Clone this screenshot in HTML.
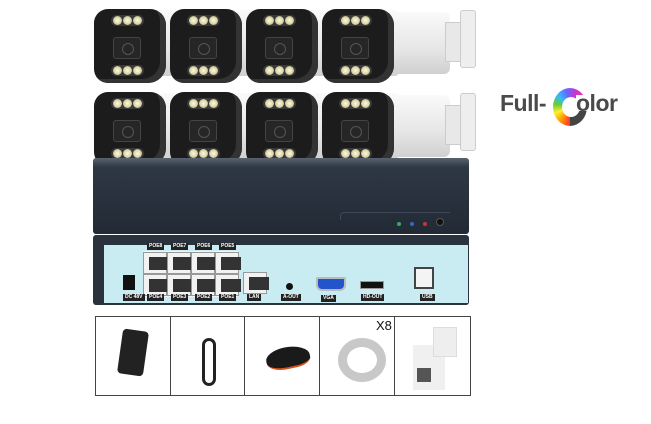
<!DOCTYPE html>
<html><head><meta charset="utf-8"><style>
*{margin:0;padding:0;box-sizing:border-box}
body{width:651px;height:424px;background:#fff;position:relative;overflow:hidden;font-family:"Liberation Sans",sans-serif}
.a{position:absolute}
.body{position:absolute;background:linear-gradient(#fafafa,#e6e6e6 60%,#d0d0d0);border-radius:6px}
.face{position:absolute;width:72px;height:74px;background:#1c1c1c;border-radius:14px 16px 18px 14px;box-shadow:inset -6px -4px 0 #333}
.leds{position:absolute;left:17px;display:flex;gap:1px;background:#3a3a3a;border-radius:7px;padding:1px 2px}
.leds i{display:block;width:9px;height:9px;border-radius:50%;background:radial-gradient(#fffbe0,#d6d0a0 60%,#888 80%)}
.lens{position:absolute;left:19px;top:28px;width:28px;height:22px;background:#262626;border:1px solid #444;border-radius:3px}
.lens:after{content:"";position:absolute;left:8px;top:5px;width:10px;height:10px;border-radius:50%;border:1px solid #555}
.lbl{position:absolute;background:#222;color:#fff;font-size:5px;font-weight:bold;line-height:7px;padding:0 2px}
.rj{position:absolute;width:31px;height:22px;background:#f2f2f2;border:1px solid #999}
.rj:after{content:"";position:absolute;left:5px;top:4px;width:20px;height:13px;background:#333}
.cell{position:absolute;top:316px;height:80px;border-right:1px solid #444}
</style></head><body>
<div class="body" style="left:380px;top:12px;width:70px;height:62px"></div>
<div class="a" style="left:445px;top:22px;width:20px;height:40px;background:#e8e8e8;border:1px solid #ccc"></div>
<div class="a" style="left:460px;top:10px;width:16px;height:58px;background:#eee;border:1px solid #ccc;border-radius:3px"></div>
<div class="body" style="left:380px;top:95px;width:70px;height:62px"></div>
<div class="a" style="left:445px;top:105px;width:20px;height:40px;background:#e8e8e8;border:1px solid #ccc"></div>
<div class="a" style="left:460px;top:93px;width:16px;height:58px;background:#eee;border:1px solid #ccc;border-radius:3px"></div>
<div class="body" style="left:100px;top:10px;width:300px;height:66px"></div>
<div class="body" style="left:100px;top:93px;width:300px;height:66px"></div>

<div class="face" style="left:94px;top:9px"><div class="leds" style="top:6px"><i></i><i></i><i></i></div><div class="lens"></div><div class="leds" style="top:56px"><i></i><i></i><i></i></div></div>
<div class="face" style="left:170px;top:9px"><div class="leds" style="top:6px"><i></i><i></i><i></i></div><div class="lens"></div><div class="leds" style="top:56px"><i></i><i></i><i></i></div></div>
<div class="face" style="left:246px;top:9px"><div class="leds" style="top:6px"><i></i><i></i><i></i></div><div class="lens"></div><div class="leds" style="top:56px"><i></i><i></i><i></i></div></div>
<div class="face" style="left:322px;top:9px"><div class="leds" style="top:6px"><i></i><i></i><i></i></div><div class="lens"></div><div class="leds" style="top:56px"><i></i><i></i><i></i></div></div>
<div class="face" style="left:94px;top:92px"><div class="leds" style="top:6px"><i></i><i></i><i></i></div><div class="lens"></div><div class="leds" style="top:56px"><i></i><i></i><i></i></div></div>
<div class="face" style="left:170px;top:92px"><div class="leds" style="top:6px"><i></i><i></i><i></i></div><div class="lens"></div><div class="leds" style="top:56px"><i></i><i></i><i></i></div></div>
<div class="face" style="left:246px;top:92px"><div class="leds" style="top:6px"><i></i><i></i><i></i></div><div class="lens"></div><div class="leds" style="top:56px"><i></i><i></i><i></i></div></div>
<div class="face" style="left:322px;top:92px"><div class="leds" style="top:6px"><i></i><i></i><i></i></div><div class="lens"></div><div class="leds" style="top:56px"><i></i><i></i><i></i></div></div>

<div class="a" style="left:500px;top:90px;font-size:23px;font-weight:bold;color:#4a4a4a;letter-spacing:-0.5px">Full-</div>
<div class="a" style="left:553px;top:88px;width:34px;height:38px;border-radius:50%;background:conic-gradient(from 180deg,#f33,#f90,#fe3,#6c3,#3bf,#66f,#c3c,#f39,#f33 75%,#444 75%,#444);"></div>
<div class="a" style="left:562px;top:97px;width:18px;height:20px;border-radius:50%;background:#fff"></div>
<div class="a" style="left:576px;top:95px;width:14px;height:16px;background:#fff"></div>
<div class="a" style="left:576px;top:90px;font-size:23px;font-weight:bold;color:#4a4a4a;letter-spacing:-0.5px">olor</div>

<div class="a" style="left:93px;top:158px;width:376px;height:76px;background:linear-gradient(#5a6370,#2e3744 12%,#27303c 60%,#222a35);border-radius:3px"></div>
<div class="a" style="left:340px;top:212px;width:110px;height:8px;border-top:1px solid #3e4856;border-left:1px solid #3e4856;border-radius:4px 0 0 0"></div>
<div class="a" style="left:397px;top:222px;width:4px;height:4px;border-radius:50%;background:#3a6"></div>
<div class="a" style="left:410px;top:222px;width:4px;height:4px;border-radius:50%;background:#36c"></div>
<div class="a" style="left:423px;top:222px;width:4px;height:4px;border-radius:50%;background:#c33"></div>
<div class="a" style="left:436px;top:218px;width:8px;height:8px;border-radius:50%;background:#111;border:1px solid #555"></div>
<div class="a" style="left:93px;top:235px;width:376px;height:70px;background:#2a323d;border-radius:3px"></div>
<div class="a" style="left:104px;top:245px;width:364px;height:58px;background:#c8ecf2"></div>
<div class="lbl" style="left:147px;top:243px">POE8</div><div class="lbl" style="left:171px;top:243px">POE7</div><div class="lbl" style="left:195px;top:243px">POE6</div><div class="lbl" style="left:219px;top:243px">POE5</div>
<div class="a" style="left:143px;top:251px;width:95px;height:46px;background:#f5f5f5"></div>
<div class="rj" style="left:143px;top:252px;width:24px"></div><div class="rj" style="left:167px;top:252px;width:24px"></div><div class="rj" style="left:191px;top:252px;width:24px"></div><div class="rj" style="left:215px;top:252px;width:24px"></div>
<div class="rj" style="left:143px;top:274px;width:24px"></div><div class="rj" style="left:167px;top:274px;width:24px"></div><div class="rj" style="left:191px;top:274px;width:24px"></div><div class="rj" style="left:215px;top:274px;width:24px"></div>
<div class="rj" style="left:243px;top:272px;width:24px"></div>
<div class="a" style="left:123px;top:275px;width:12px;height:15px;background:#111"></div>
<div class="a" style="left:286px;top:283px;width:7px;height:7px;border-radius:50%;background:#111"></div>
<div class="a" style="left:316px;top:277px;width:30px;height:14px;background:#2255cc;border:2px solid #bbb;border-radius:2px 2px 6px 6px"></div>
<div class="a" style="left:360px;top:281px;width:24px;height:8px;background:#111;border:1px solid #999"></div>
<div class="a" style="left:414px;top:267px;width:20px;height:22px;background:#f4f4f4;border:2px solid #444"></div>
<div class="lbl" style="left:123px;top:294px">DC 48V</div>
<div class="lbl" style="left:147px;top:294px">POE4</div><div class="lbl" style="left:171px;top:294px">POE3</div><div class="lbl" style="left:195px;top:294px">POE2</div><div class="lbl" style="left:219px;top:294px">POE1</div>
<div class="lbl" style="left:247px;top:294px">LAN</div><div class="lbl" style="left:281px;top:294px">A-OUT</div>
<div class="lbl" style="left:321px;top:295px">VGA</div><div class="lbl" style="left:361px;top:294px">HD-OUT</div><div class="lbl" style="left:420px;top:294px">USB</div>

<div class="a" style="left:95px;top:316px;width:376px;height:80px;border:1px solid #444"></div>
<div class="cell" style="left:95px;width:76px"></div>
<div class="cell" style="left:95px;width:150px"></div>
<div class="cell" style="left:95px;width:225px"></div>
<div class="cell" style="left:95px;width:300px"></div>
<div class="a" style="left:120px;top:330px;width:26px;height:45px;background:#222;border-radius:4px;transform:rotate(8deg)"></div>
<div class="a" style="left:202px;top:338px;width:14px;height:48px;border:3px solid #222;border-radius:7px"></div>
<div class="a" style="left:266px;top:347px;width:44px;height:22px;background:#1a1a1a;border-bottom:2px solid #d6541f;border-radius:50% 60% 40% 50%;transform:rotate(-12deg)"></div>
<div class="a" style="left:338px;top:338px;width:48px;height:44px;border:9px solid #c8c8c8;border-radius:50%"></div>
<div class="a" style="left:376px;top:318px;font-size:13px;color:#111">X8</div>
<div class="a" style="left:413px;top:345px;width:32px;height:45px;background:#f0f0f0"></div>
<div class="a" style="left:433px;top:327px;width:24px;height:30px;background:#eee;border:1px solid #ddd"></div>
<div class="a" style="left:417px;top:368px;width:14px;height:14px;background:#555"></div>
</body></html>
